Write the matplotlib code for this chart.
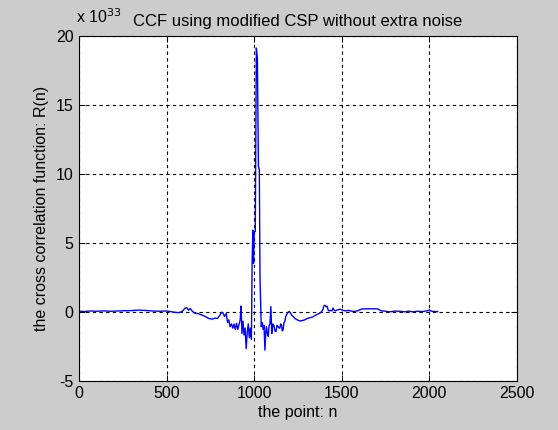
import matplotlib
matplotlib.use("Agg")
import matplotlib.pyplot as plt

# sample index n and R(n) in units of 1e33
n_points = [0, 30, 60, 100, 140, 180, 220, 260, 300, 340, 380, 420, 460, 500, 520,
            545, 570, 590, 605, 615, 625, 635, 645, 660, 680, 700, 720, 740, 760, 775,
            790, 805, 815, 822, 830, 840, 848, 855, 862, 870, 878, 885, 892, 899, 906,
            912, 920, 925, 930, 936, 942, 948, 954, 960, 966, 972, 978, 984, 988, 992,
            996, 1000, 1006, 1012, 1018, 1024, 1029, 1033, 1040, 1046, 1051, 1056, 1061,
            1066, 1070, 1075, 1080, 1085, 1090, 1095, 1100, 1106, 1112, 1118, 1124, 1130,
            1137, 1142, 1146, 1151, 1156, 1160, 1165, 1170, 1175, 1180, 1186, 1193, 1200,
            1207, 1213, 1222, 1232, 1245, 1260, 1275, 1289, 1303, 1317, 1332, 1346, 1360,
            1374, 1385, 1392, 1398, 1405, 1410, 1416, 1422, 1428, 1436, 1444, 1450, 1456,
            1462, 1475, 1490, 1505, 1520, 1540, 1565, 1590, 1612, 1640, 1670, 1705, 1725,
            1750, 1775, 1800, 1830, 1860, 1880, 1905, 1930, 1960, 1985, 2000, 2010, 2030,
            2047]
r_values = [0.03, 0.0, 0.04, 0.02, 0.05, 0.02, 0.04, 0.06, 0.07, 0.1, 0.08, 0.04, 0.02, 0.04, 0.0,
            -0.05, -0.08, 0.02, 0.25, 0.28, 0.1, 0.22, 0.05, -0.12, -0.15, -0.25, -0.35, -0.5, -0.55, -0.48,
            -0.5, -0.25, -0.05, -0.1, -0.35, -0.15, -0.8, -0.6, -1.1, -0.9, -1.2, -0.9, -1.3, -0.85, -1.3,
            -1.0, -0.6, 0.4, -1.6, -0.7, -1.7, -1.2, -2.7, -1.5, -0.9, -1.9, -1.2, -2.0, 3.6, 5.9,
            3.5, 5.8, 5.8, 19.1, 18.4, 10.5, 10.3, 2.4, -1.1, -0.8, -1.3, -1.0, -2.8,
            -1.5, -1.1, -1.6, -1.8, -1.0, -0.9, 0.36, -1.6, -0.9, -1.0, -1.4, -1.45, -1.0,
            -1.1, -1.2, -1.2, -0.9, -1.0, -1.4, -1.3, -0.8, -0.7, -0.35, -0.2, -0.05, 0.0,
            -0.1, -0.25, -0.35, -0.5, -0.6, -0.68, -0.65, -0.6, -0.5, -0.45, -0.4, -0.3, -0.2,
            -0.12, 0.0, 0.15, 0.42, 0.45, 0.35, 0.38, 0.1, 0.05, 0.08, 0.05, 0.25, 0.1,
            0.05, 0.12, 0.17, 0.1, 0.05, 0.08, 0.0, 0.05, 0.18, 0.2, 0.2, 0.19, 0.05,
            0.02, -0.02, 0.03, 0.02, -0.02, 0.03, -0.02, 0.02, 0.0, 0.05, 0.12, 0.03, 0.0,
            0.0]

x_ticks = [0, 500, 1000, 1500, 2000, 2500]
y_ticks = [-5, 0, 5, 10, 15, 20]

plt.rcParams['font.family'] = ['Liberation Sans', 'DejaVu Sans']

fig = plt.figure(figsize=(5.58, 4.30), dpi=100, facecolor='#cccccc')
ax = fig.add_axes([0.1416, 0.1151, 0.785, 0.802])
ax.set_facecolor('white')

ax.plot(n_points, r_values, color=(0, 0, 1), linewidth=1.0)

ax.set_xlim(0, 2500)
ax.set_ylim(-5, 20)
ax.set_xticks(x_ticks)
ax.set_yticks(y_ticks)
ax.set_xticklabels([str(t) for t in x_ticks])
ax.set_yticklabels([str(t) for t in y_ticks])
ax.grid(True, color='black', linestyle=(0, (3, 3)), linewidth=0.8)
ax.tick_params(direction='in', length=4, width=0.7, top=True, right=True,
               labelsize=11.5, colors='black', pad=4)
for s in ax.spines.values():
    s.set_linewidth(0.8)
    s.set_color('black')

ax.set_xlabel('the point: n', fontsize=11.5, labelpad=3)
ax.set_ylabel('the cross correlation function: R(n)', fontsize=11.5, labelpad=5)
ax.set_title('CCF using modified CSP without extra noise', fontsize=12, pad=7)
fig.text(76 / 558, 1 - 17 / 430, r'x 10$^{33}$', fontsize=11.5, va='center', ha='left')

fig.savefig('out.png', dpi=100, facecolor=fig.get_facecolor())
